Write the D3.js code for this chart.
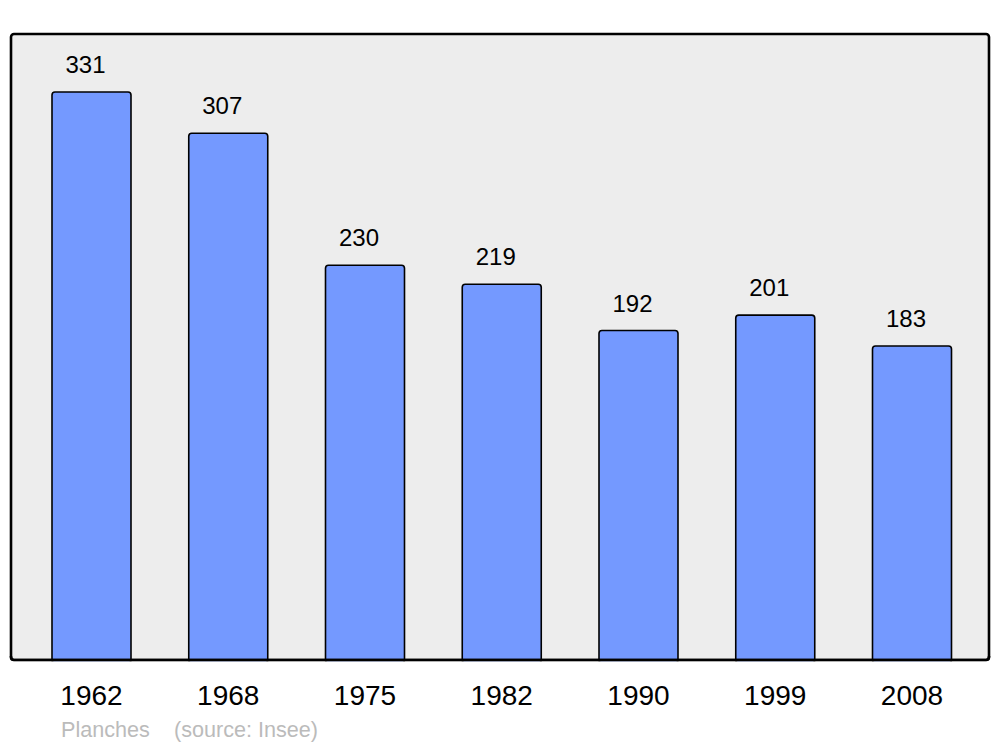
<!DOCTYPE html>
<html>
<head>
<meta charset="utf-8">
<script src="https://cdn.jsdelivr.net/npm/d3@7"></script>
<style>
  html, body { margin: 0; padding: 0; background: #ffffff; }
  svg { display: block; font-family: "Liberation Sans", Arial, sans-serif; }
</style>
</head>
<body>
<svg id="chart" width="1000" height="747"></svg>
<script>
const years = ["1962", "1968", "1975", "1982", "1990", "1999", "2008"];
const population = [331, 307, 230, 219, 192, 201, 183];
const sourceText = ["Planches", "(source: Insee)"];

const svg = d3.select("#chart");

const frame = { left: 11, right: 989, top: 34, bottom: 660 };

const x = d3.scaleBand()
  .domain(years)
  .range([23.125, 980.375])
  .paddingInner(0.4223)
  .paddingOuter(0.4223 / 2);

const y = d3.scaleLinear()
  .domain([0, 364.8])
  .range([frame.bottom, frame.top]);

// background frame
svg.append("rect")
  .attr("x", frame.left)
  .attr("y", frame.top)
  .attr("width", frame.right - frame.left)
  .attr("height", frame.bottom - frame.top)
  .attr("rx", 3)
  .attr("fill", "#ededed")
  .attr("stroke", "none");

const data = years.map((yr, i) => ({ year: yr, value: population[i] }));

// bars
svg.append("g").selectAll("rect")
  .data(data)
  .join("rect")
  .attr("x", d => x(d.year))
  .attr("y", d => y(d.value))
  .attr("width", x.bandwidth())
  .attr("height", d => y(0) - y(d.value) + 3)
  .attr("rx", 3)
  .attr("fill", "#7499ff")
  .attr("stroke", "#000")
  .attr("stroke-width", 1.6);

// frame border on top
svg.append("rect")
  .attr("x", frame.left)
  .attr("y", frame.top)
  .attr("width", frame.right - frame.left)
  .attr("height", frame.bottom - frame.top)
  .attr("rx", 3)
  .attr("fill", "none")
  .attr("stroke", "#000")
  .attr("stroke-width", 2.6);

// hide bar overflow below the frame
svg.append("rect")
  .attr("x", 0)
  .attr("y", frame.bottom + 1.3)
  .attr("width", 1000)
  .attr("height", 747 - frame.bottom)
  .attr("fill", "#fff");
svg.append("path")
  .attr("d", `M${frame.left},${frame.bottom - 4} L${frame.left},${frame.bottom - 3} Q${frame.left},${frame.bottom} ${frame.left + 3},${frame.bottom} L${frame.right - 3},${frame.bottom} Q${frame.right},${frame.bottom} ${frame.right},${frame.bottom - 3} L${frame.right},${frame.bottom - 4}`)
  .attr("fill", "none")
  .attr("stroke", "#000")
  .attr("stroke-width", 2.6);

// value labels
svg.append("g").selectAll("text")
  .data(data)
  .join("text")
  .attr("x", d => x(d.year) + x.bandwidth() / 2 - 6)
  .attr("y", d => y(d.value) - 19)
  .attr("text-anchor", "middle")
  .attr("font-size", 24)
  .attr("fill", "#000")
  .text(d => d.value);

// x axis labels
const xAxis = d3.axisBottom(x).tickSize(0).tickPadding(0);
const gx = svg.append("g")
  .attr("transform", `translate(0, ${frame.bottom})`)
  .call(xAxis);
gx.select(".domain").remove();
gx.selectAll("text")
  .attr("font-size", 28)
  .attr("font-family", "'Liberation Sans', Arial, sans-serif")
  .attr("fill", "#000")
  .attr("dy", null)
  .attr("y", 45);

// source
svg.append("text")
  .attr("x", 61)
  .attr("y", 737)
  .attr("font-size", 21.6)
  .attr("fill", "#bbbbbb")
  .text(sourceText[0]);
svg.append("text")
  .attr("x", 174)
  .attr("y", 737)
  .attr("font-size", 21.6)
  .attr("fill", "#bbbbbb")
  .text(sourceText[1]);
</script>
</body>
</html>
